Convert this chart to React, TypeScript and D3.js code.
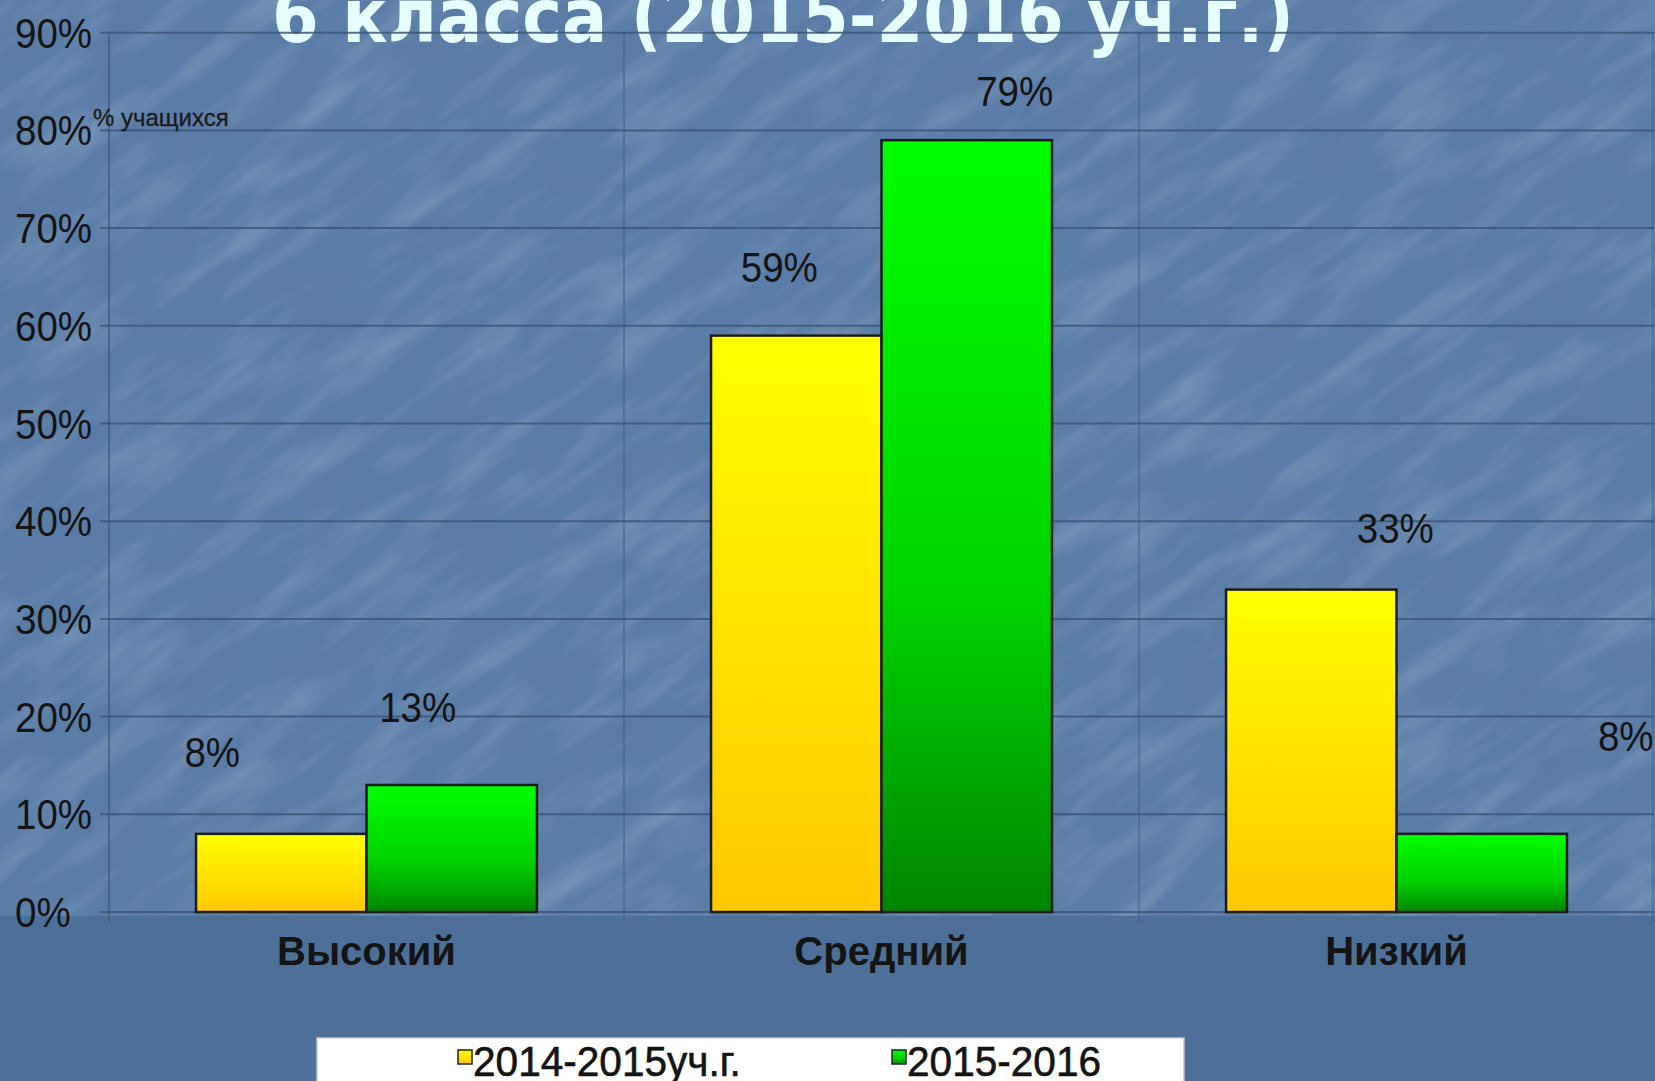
import React from "react";
import * as d3 from "d3";

const categories = ["Высокий", "Средний", "Низкий"];
const seriesNames = ["2014-2015уч.г.", "2015-2016"];
const values2014 = [8, 59, 33];
const values2015 = [13, 79, 8];
const yTicks = [0, 10, 20, 30, 40, 50, 60, 70, 80, 90];
const titleText = "6 класса (2015-2016 уч.г.)";
const axisTitle = "% учащихся";

// manual label placement offsets (dx, dy from bar top centre), as in the original slide
const labelOffsets2014 = [[-69, -82], [-17, -69], [84, -62]];
const labelOffsets2015 = [[-34, -78], [48, -49], [144, -98]];

const W = 1655;
const H = 1081;
const plotLeft = 109;
const plotRight = 1654;
const plotTop = 32.7;
const plotBottom = 912;

export default function App() {
  const x0 = d3.scaleBand<string>().domain(categories).range([plotLeft, plotRight]).padding(0);
  const bw = x0.bandwidth();
  const x1 = d3.scaleBand<string>().domain(seriesNames).range([bw * 0.169, bw * 0.831]).padding(0);
  const y = d3.scaleLinear().domain([0, 90]).range([plotBottom, plotTop]);

  const series = [
    { name: seriesNames[0], values: values2014, offs: labelOffsets2014, fill: "url(#gYellow)" },
    { name: seriesNames[1], values: values2015, offs: labelOffsets2015, fill: "url(#gGreen)" },
  ];

  const font = "'Liberation Sans', Arial, sans-serif";
  const gridColor = "#3b5677";
  const tall = (xv: number, yv: number, sx = 0.94) => `translate(${xv} ${yv}) scale(${sx} 1.06)`;

  return (
    <div style={{ position: "fixed", left: 0, top: 0, width: W, height: H, overflow: "hidden" }}>
      <svg width={W} height={H} viewBox={`0 0 ${W} ${H}`} style={{ display: "block" }}>
        <defs>
          <linearGradient id="gYellow" x1="0" y1="0" x2="0" y2="1">
            <stop offset="0" stopColor="#ffff00" />
            <stop offset="1" stopColor="#ffc800" />
          </linearGradient>
          <linearGradient id="gGreen" x1="0" y1="0" x2="0" y2="1">
            <stop offset="0" stopColor="#00ff00" />
            <stop offset="0.6" stopColor="#00d200" />
            <stop offset="1" stopColor="#008500" />
          </linearGradient>
          <filter id="texLight" x="0" y="0" width="100%" height="100%">
            <feTurbulence type="fractalNoise" baseFrequency="0.008 0.035" numOctaves="4" seed="7" />
            <feColorMatrix type="matrix" values="0 0 0 0 1  0 0 0 0 1  0 0 0 0 1  0 0 0 1.8 -0.8" />
          </filter>
          <filter id="texDark" x="0" y="0" width="100%" height="100%">
            <feTurbulence type="fractalNoise" baseFrequency="0.012 0.025" numOctaves="3" seed="11" />
            <feColorMatrix type="matrix" values="0 0 0 0 0.1  0 0 0 0 0.15  0 0 0 0 0.3  0 0 0 1.6 -0.75" />
          </filter>
          <clipPath id="texClip">
            <rect x={0} y={0} width={W} height={plotBottom + 4} />
          </clipPath>
        </defs>

        {/* slide background */}
        <rect x={0} y={0} width={W} height={H} fill="#5a7da7" />
        <g clipPath="url(#texClip)">
          <rect x={-600} y={-600} width={W + 1200} height={H + 1200} filter="url(#texLight)" opacity={0.2}
            transform={`rotate(-35 ${W / 2} ${H / 2})`} />
          <rect x={-600} y={-600} width={W + 1200} height={H + 1200} filter="url(#texDark)" opacity={0.22}
            transform={`rotate(-35 ${W / 2} ${H / 2})`} />
        </g>
        <rect x={0} y={plotBottom + 4} width={W} height={H - plotBottom - 4} fill="#4d7099" />

        {/* title (cut off at the top) */}
        <text x={783} y={42} textAnchor="middle" fontFamily="'DejaVu Sans', Verdana, sans-serif"
          fontWeight="bold" fontSize={74} fill="#e6ffff" textLength={1022} lengthAdjust="spacingAndGlyphs">
          {titleText}
        </text>

        {/* horizontal gridlines */}
        {yTicks.map((t) => (
          <line key={"h" + t} x1={plotLeft - 9} x2={plotRight} y1={y(t)} y2={y(t)}
            stroke={gridColor} strokeWidth={2} opacity={0.85} />
        ))}
        {/* vertical gridlines at category boundaries */}
        {[...categories.map((c) => x0(c) as number), plotRight - 1].map((xv, i) => (
          <line key={"v" + i} x1={xv} x2={xv} y1={plotTop} y2={plotBottom + 10}
            stroke={gridColor} strokeWidth={1.5} opacity={i === 0 ? 0.85 : 0.55} />
        ))}

        {/* y tick labels */}
        {yTicks.map((t) => (
          <text key={"yt" + t} transform={tall(15, y(t) + 15)} fontFamily={font} fontSize={41} fill="#141414">
            {t + "%"}
          </text>
        ))}

        {/* axis title */}
        <text x={93} y={126} fontFamily={font} fontSize={24} fill="#1a1a1a" stroke="#1a1a1a" strokeWidth={0.3}>
          {axisTitle}
        </text>

        {/* bars */}
        {series.map((s) =>
          categories.map((c, i) => {
            const bx = (x0(c) as number) + (x1(s.name) as number);
            const by = y(s.values[i]);
            return (
              <rect key={s.name + c} x={bx} y={by} width={x1.bandwidth()} height={plotBottom - by}
                fill={s.fill} stroke="#1c1c1c" strokeWidth={2.5} />
            );
          })
        )}

        {/* data labels */}
        {series.map((s) =>
          categories.map((c, i) => {
            const cx = (x0(c) as number) + (x1(s.name) as number) + x1.bandwidth() / 2;
            const cy = y(s.values[i]);
            return (
              <text key={"l" + s.name + c} transform={tall(cx + s.offs[i][0], cy + s.offs[i][1] + 15)}
                textAnchor="middle" fontFamily={font} fontSize={41} fill="#141414">
                {s.values[i] + "%"}
              </text>
            );
          })
        )}

        {/* category labels */}
        {categories.map((c) => (
          <text key={"c" + c} x={(x0(c) as number) + bw / 2} y={965} textAnchor="middle"
            fontFamily={font} fontWeight="bold" fontSize={40} fill="#141414">
            {c}
          </text>
        ))}

        {/* legend */}
        <rect x={317} y={1038} width={867} height={60} fill="#ffffff" stroke="#c8c8c8" strokeWidth={1.5} />
        {[
          { name: seriesNames[0], sx: 458, fill: "url(#gYellow)" },
          { name: seriesNames[1], sx: 892, fill: "url(#gGreen)" },
        ].map((l) => (
          <g key={"lg" + l.name}>
            <rect x={l.sx} y={1050} width={14} height={14} fill={l.fill} stroke="#222" strokeWidth={1.5} />
            <text transform={tall(l.sx + 15, 1076, 0.99)} fontFamily={font} fontSize={41} fill="#141414"
              stroke="#141414" strokeWidth={0.6}>
              {l.name}
            </text>
          </g>
        ))}
      </svg>
    </div>
  );
}
